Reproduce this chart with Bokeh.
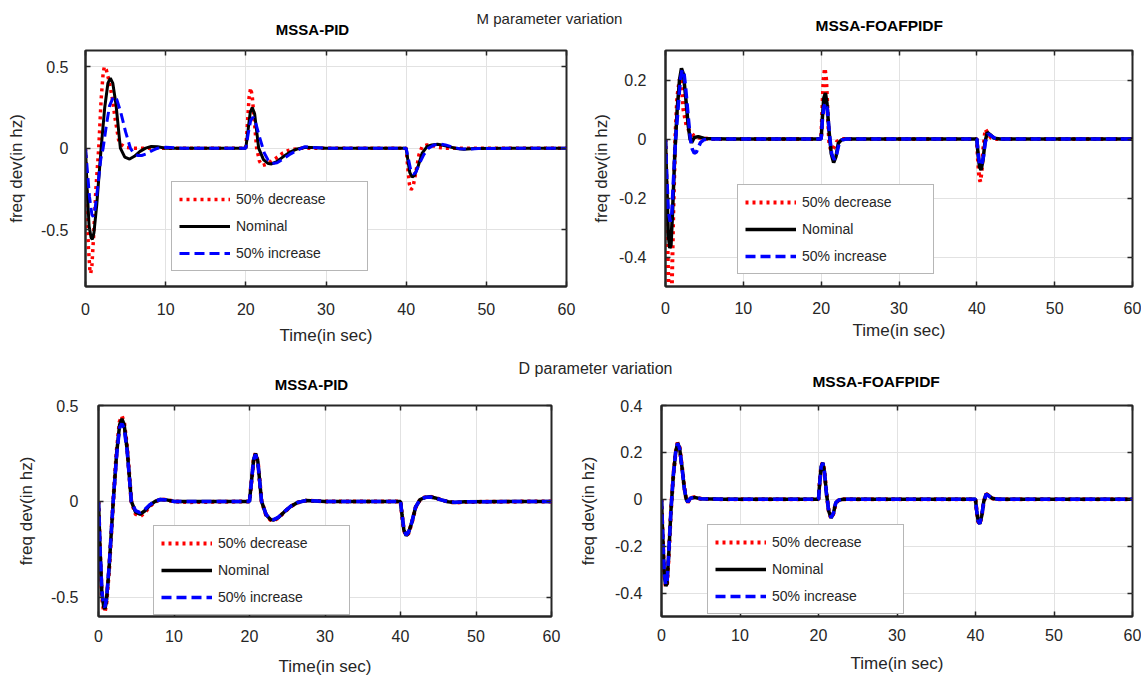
from bokeh.plotting import figure
from bokeh.layouts import column, row
from bokeh.models import Range1d, FixedTicker, Legend, LegendItem, Label, LinearAxis, CustomJSTickFormatter
from bokeh.embed import file_html
from bokeh.resources import INLINE

FONT = "Liberation Sans"
TXT = "#262626"

# ---------------- data ----------------
x_ticks = [0, 10, 20, 30, 40, 50, 60]
x_tick_labels = ["0", "10", "20", "30", "40", "50", "60"]
y_ticks_pid = [-0.5, 0, 0.5]
y_labels_pid = ["-0.5", "0", "0.5"]
y_ticks_fo_m = [-0.4, -0.2, 0, 0.2]
y_labels_fo_m = ["-0.4", "-0.2", "0", "0.2"]
y_ticks_fo_d = [-0.4, -0.2, 0, 0.2, 0.4]
y_labels_fo_d = ["-0.4", "-0.2", "0", "0.2", "0.4"]
series_names = ["50% decrease", "Nominal", "50% increase"]

pid_t = [0, 0.2, 0.45, 0.7, 0.85, 1.05, 1.4, 1.95, 2.4, 2.8, 3.1, 3.4, 3.8, 4.35, 4.9, 5.5, 6.1, 6.8, 7.5, 8.2, 9.0, 10.0, 12.0,
         20.0, 20.3, 20.55, 20.8, 21.1, 21.6, 22.2, 22.8, 23.2, 23.8, 24.6, 25.5, 26.4, 27.5, 30.0,
         40.0, 40.2, 40.45, 40.75, 41.05, 41.5, 42.0, 42.6, 43.2, 43.9, 44.6, 45.4, 46.3, 47.2, 48.5, 60.0]
pid_nom = [0, -0.25, -0.48, -0.55, -0.56, -0.52, -0.35, 0.0, 0.25, 0.4, 0.43, 0.4, 0.27, 0.0, -0.055, -0.067, -0.05, -0.02, 0.0, 0.01, 0.008, 0.0, 0.0,
           0.0, 0.12, 0.22, 0.25, 0.21, 0.0, -0.07, -0.095, -0.097, -0.085, -0.055, -0.025, -0.005, 0.005, 0.0,
           0.0, -0.07, -0.15, -0.178, -0.165, -0.11, -0.03, 0.01, 0.02, 0.024, 0.018, 0.008, -0.002, -0.006, -0.002, 0.0]

pidm_dec_t = [0, 0.15, 0.35, 0.55, 0.65, 0.8, 1.0, 1.3, 1.65, 1.95, 2.2, 2.35, 2.6, 2.9, 3.3, 3.7, 4.2, 5.0, 6.0, 8.0, 10.0,
              20.0, 20.2, 20.4, 20.6, 20.8, 21.05, 21.35, 21.7, 22.05, 22.5, 23.0, 23.8, 24.6, 25.5, 27.0, 30.0,
              40.0, 40.2, 40.4, 40.6, 40.85, 41.2, 41.6, 42.0, 42.6, 43.3, 44.0, 45.0, 46.0, 60.0]
pidm_dec_v = [0, -0.25, -0.6, -0.75, -0.77, -0.72, -0.55, -0.25, 0.0, 0.3, 0.46, 0.5, 0.48, 0.42, 0.32, 0.18, 0.03, 0.005, 0.0, 0.0, 0.0,
              0.0, 0.15, 0.31, 0.37, 0.32, 0.17, 0.0, -0.08, -0.107, -0.1, -0.085, -0.06, -0.03, -0.01, 0.0, 0.0,
              0.0, -0.12, -0.22, -0.255, -0.24, -0.15, -0.04, 0.01, 0.02, 0.015, 0.005, 0.0, 0.0, 0.0]

pidm_inc_t = [0, 0.2, 0.5, 0.8, 0.96, 1.15, 1.5, 1.9, 2.2, 2.6, 3.0, 3.5, 3.9, 4.4, 5.0, 5.6, 6.0, 6.5, 7.0, 7.6, 8.3, 9.0, 10.0, 12.0,
              20.0, 20.3, 20.6, 20.9, 21.2, 21.7, 22.3, 22.8, 23.3, 23.9, 24.7, 25.6, 26.5, 27.3, 28.5, 30.0,
              40.0, 40.25, 40.55, 40.9, 41.2, 41.6, 42.2, 42.8, 43.5, 44.2, 44.9, 45.7, 46.6, 47.5, 49.0, 60.0]
pidm_inc_v = [0, -0.12, -0.3, -0.41, -0.42, -0.39, -0.25, -0.07, 0.0, 0.14, 0.26, 0.317, 0.3, 0.22, 0.1, 0.0, -0.03, -0.045, -0.045, -0.035, -0.015, 0.0, 0.005, 0.0,
              0.0, 0.09, 0.17, 0.19, 0.16, 0.07, -0.03, -0.075, -0.095, -0.09, -0.065, -0.035, -0.01, 0.008, 0.004, 0.0,
              0.0, -0.06, -0.13, -0.16, -0.15, -0.1, -0.04, 0.0, 0.02, 0.026, 0.02, 0.008, -0.003, -0.006, -0.002, 0.0]

pidd_dec_v = [0, -0.26, -0.5, -0.57, -0.575, -0.53, -0.36, 0.0, 0.26, 0.415, 0.445, 0.41, 0.28, 0.0, -0.065, -0.078, -0.06, -0.025, -0.002, 0.01, 0.008, 0.0, -0.004,
              0.0, 0.12, 0.22, 0.25, 0.21, 0.0, -0.072, -0.097, -0.099, -0.087, -0.056, -0.026, -0.006, 0.004, 0.0,
              0.0, -0.07, -0.15, -0.18, -0.167, -0.112, -0.032, 0.01, 0.021, 0.025, 0.019, 0.008, -0.002, -0.006, -0.003, 0.0]
pidd_inc_v = [0, -0.24, -0.47, -0.545, -0.55, -0.51, -0.34, 0.0, 0.24, 0.385, 0.405, 0.38, 0.26, 0.0, -0.048, -0.058, -0.043, -0.017, 0.0, 0.01, 0.007, 0.0, 0.0,
              0.0, 0.118, 0.218, 0.245, 0.206, 0.0, -0.068, -0.093, -0.095, -0.083, -0.054, -0.024, -0.005, 0.005, 0.0,
              0.0, -0.068, -0.147, -0.175, -0.162, -0.108, -0.029, 0.01, 0.02, 0.023, 0.017, 0.008, -0.002, -0.005, -0.002, 0.0]

fo_t = [0, 0.15, 0.35, 0.55, 0.7, 0.9, 1.2, 1.5, 1.8, 2.05, 2.3, 2.6, 2.9, 3.15, 3.35, 3.7, 4.2, 5.0, 8.0,
        20.0, 20.15, 20.35, 20.55, 20.75, 21.0, 21.3, 21.6, 21.9, 22.2, 22.6, 23.2, 25.0,
        40.0, 40.15, 40.35, 40.55, 40.8, 41.05, 41.35, 41.7, 42.2, 43.0, 60.0]
fo_nom = [0, -0.15, -0.32, -0.37, -0.36, -0.25, -0.05, 0.1, 0.2, 0.24, 0.22, 0.14, 0.05, 0.0, -0.012, 0.005, 0.008, 0.002, 0.0,
          0.0, 0.07, 0.14, 0.156, 0.12, 0.03, -0.05, -0.08, -0.06, -0.015, -0.003, 0.0, 0.0,
          0.0, -0.05, -0.095, -0.105, -0.07, -0.01, 0.022, 0.015, 0.003, 0.0, 0.0]

fom_dec_t = [0, 0.15, 0.3, 0.5, 0.65, 0.8, 1.0, 1.25, 1.5, 1.8, 2.0, 2.3, 2.7, 3.1, 3.6, 4.2, 5.0, 6.0, 8.0,
             20.0, 20.15, 20.3, 20.47, 20.65, 20.85, 21.05, 21.3, 21.6, 22.0, 22.5, 25.0,
             40.0, 40.12, 40.3, 40.45, 40.62, 40.8, 41.1, 41.4, 41.8, 42.3, 60.0]
fom_dec_v = [0, -0.2, -0.42, -0.58, -0.6, -0.52, -0.25, 0.0, 0.14, 0.2, 0.21, 0.1, 0.045, 0.025, 0.012, 0.005, 0.002, 0.0, 0.0,
             0.0, 0.1, 0.2, 0.24, 0.2, 0.08, -0.02, -0.04, -0.03, -0.01, 0.0, 0.0,
             0.0, -0.06, -0.13, -0.145, -0.11, -0.04, 0.033, 0.02, 0.005, 0.0, 0.0]

fom_inc_t = [0, 0.15, 0.35, 0.6, 0.8, 1.0, 1.3, 1.6, 1.9, 2.15, 2.35, 2.6, 2.9, 3.2, 3.45, 3.7, 3.95, 4.2, 4.5, 4.9, 5.5, 8.0,
             20.0, 20.15, 20.35, 20.6, 20.8, 21.05, 21.35, 21.7, 22.0, 22.3, 22.7, 23.3, 25.0,
             40.0, 40.15, 40.35, 40.6, 40.85, 41.1, 41.45, 41.8, 42.3, 43.0, 60.0]
fom_inc_v = [0, -0.12, -0.24, -0.28, -0.26, -0.15, 0.0, 0.1, 0.2, 0.235, 0.23, 0.17, 0.08, 0.0, -0.035, -0.048, -0.045, -0.03, -0.012, -0.003, 0.0, 0.0,
             0.0, 0.06, 0.11, 0.122, 0.1, 0.02, -0.05, -0.07, -0.05, -0.015, -0.003, 0.0, 0.0,
             0.0, -0.045, -0.085, -0.09, -0.06, -0.01, 0.018, 0.012, 0.003, 0.0, 0.0]

fod_dec_v = [0, -0.155, -0.325, -0.375, -0.365, -0.255, -0.052, 0.1, 0.2, 0.242, 0.222, 0.142, 0.052, 0.0, -0.013, 0.005, 0.009, 0.002, 0.0,
             0.0, 0.071, 0.141, 0.157, 0.121, 0.031, -0.05, -0.081, -0.061, -0.016, -0.003, 0.0, 0.0,
             0.0, -0.051, -0.096, -0.106, -0.071, -0.011, 0.023, 0.016, 0.003, 0.0, 0.0]
fod_inc_v = [0, -0.145, -0.315, -0.365, -0.355, -0.245, -0.048, 0.1, 0.2, 0.238, 0.218, 0.138, 0.048, 0.0, -0.011, 0.005, 0.008, 0.002, 0.0,
             0.0, 0.069, 0.139, 0.155, 0.119, 0.029, -0.05, -0.079, -0.059, -0.014, -0.003, 0.0, 0.0,
             0.0, -0.049, -0.094, -0.104, -0.069, -0.01, 0.021, 0.014, 0.003, 0.0, 0.0]

# ---------------- styles ----------------
STYLES = [dict(color="#ff0000", line_dash="3 4", width_add=0.5),
          dict(color="#000000", line_dash="solid", width_add=0.0),
          dict(color="#0000ff", line_dash="10 5", width_add=0.0)]


def strip(width, height, texts):
    s = figure(width=width, height=height, x_range=Range1d(0, width), y_range=Range1d(height, 0),
               x_axis_type=None, y_axis_type=None, toolbar_location=None, output_backend="svg",
               min_border_left=0, min_border_right=0, min_border_top=0, min_border_bottom=0)
    s.grid.visible = False
    s.outline_line_color = None
    for text, x, y, size, style in texts:
        s.add_layout(Label(x=x, y=y, text=text, text_font=FONT, text_font_size=size,
                           text_font_style=style, text_align="center", text_baseline="middle",
                           text_color="#000000" if style == "bold" else TXT))
    return s


def mirror_axis(ticks):
    # tick marks only (inner ticks on the top / right edges of the box)
    ax = LinearAxis(ticker=FixedTicker(ticks=ticks),
                    formatter=CustomJSTickFormatter(code="return ''"),
                    axis_line_color=None, major_tick_in=5, major_tick_out=0,
                    major_tick_line_color="#262626", major_tick_line_width=1.5,
                    minor_tick_line_color=None, major_label_standoff=0,
                    major_label_text_font_size="1px")
    return ax


def panel(width, height, borders, yr, yticks, ylabels, series, legend_loc, lw,
          xstand, xlab_stand, ystand, ylab_stand):
    left, right, top, bottom = borders
    p = figure(width=width, height=height, x_range=Range1d(0, 60), y_range=Range1d(*yr),
               toolbar_location=None, output_backend="svg",
               min_border_left=left, min_border_right=right, min_border_top=top, min_border_bottom=bottom)
    p.outline_line_color = "#262626"
    p.outline_line_width = 2
    p.outline_line_alpha = 1
    p.xaxis.ticker = FixedTicker(ticks=x_ticks)
    p.xaxis.major_label_overrides = dict(zip(x_ticks, x_tick_labels))
    p.yaxis.ticker = FixedTicker(ticks=yticks)
    p.yaxis.major_label_overrides = dict(zip(yticks, ylabels))
    p.xaxis.axis_label = "Time(in sec)"
    p.yaxis.axis_label = "freq dev(in hz)"
    for ax in (p.xaxis, p.yaxis):
        ax.axis_line_color = "#262626"
        ax.axis_line_width = 2
        ax.major_tick_in = 5
        ax.major_tick_out = 0
        ax.major_tick_line_color = "#262626"
        ax.major_tick_line_width = 1.5
        ax.minor_tick_line_color = None
        ax.major_label_text_font = FONT
        ax.major_label_text_font_size = "16px"
        ax.major_label_text_color = TXT
        ax.axis_label_text_font = FONT
        ax.axis_label_text_font_size = "17px"
        ax.axis_label_text_font_style = "normal"
        ax.axis_label_text_color = TXT
    p.xaxis.major_label_standoff = xstand
    p.xaxis.axis_label_standoff = xlab_stand
    p.yaxis.major_label_standoff = ystand
    p.yaxis.axis_label_standoff = ylab_stand
    p.grid.grid_line_color = "#e2e2e2"
    p.grid.grid_line_width = 1
    p.add_layout(mirror_axis(x_ticks), "above")
    p.add_layout(mirror_axis(yticks), "right")

    items = []
    for name, (t, v), st in zip(series_names, series, STYLES):
        r = p.line(t, v, line_color=st["color"], line_width=lw + st["width_add"], line_dash=st["line_dash"])
        items.append(LegendItem(label=name, renderers=[r]))
    leg = Legend(items=items, location=legend_loc, label_text_font=FONT, label_text_font_size="14px",
                 label_text_color=TXT, glyph_width=51, glyph_height=20, label_height=20, label_width=124,
                 label_standoff=6, padding=7, spacing=7, margin=0,
                 border_line_color="#6e6e6e", border_line_width=1.5,
                 background_fill_color="white", background_fill_alpha=1)
    p.add_layout(leg)
    return p


W = 1141
strip1 = strip(W, 40, [("M parameter variation", 549, 17.5, "15px", "normal"),
                       ("MSSA-PID", 312, 28.8, "15px", "bold"),
                       ("MSSA-FOAFPIDF", 878.8, 24.8, "15.5px", "bold")])

p1 = panel(586, 310, (85, 20, 10, 61), (-0.85, 0.6), y_ticks_pid, y_labels_pid,
           [(pidm_dec_t, pidm_dec_v), (pid_t, pid_nom), (pidm_inc_t, pidm_inc_v)], (86, 15.5), 3,
           16, 8, 17, 12)
p2 = panel(W - 586, 310, (79, 9, 8, 64), (-0.5, 0.3), y_ticks_fo_m, y_labels_fo_m,
           [(fom_dec_t, fom_dec_v), (fo_t, fo_nom), (fom_inc_t, fom_inc_v)], (72, 12.5), 3.5,
           15, 4, 19, 5)

strip2 = strip(W, 45, [("D parameter variation", 595, 17.7, "16px", "normal"),
                       ("MSSA-PID", 311, 34, "15px", "bold"),
                       ("MSSA-FOAFPIDF", 875.6, 31, "15.5px", "bold")])

p3 = panel(571, 283, (98, 20, 10, 60), (-0.6, 0.5), y_ticks_pid, y_labels_pid,
           [(pid_t, pidd_dec_v), (pid_t, pid_nom), (pid_t, pidd_inc_v)], (55, 1.5), 3.5,
           13, 12, 20, 12)
p4 = panel(W - 571, 283, (90, 9, 8, 61), (-0.5, 0.4), y_ticks_fo_d, y_labels_fo_d,
           [(fo_t, fod_dec_v), (fo_t, fo_nom), (fo_t, fod_inc_v)], (46, 2.5), 3.5,
           12, 10, 19, 14)

layout = column(strip1, row(p1, p2, spacing=0), strip2, row(p3, p4, spacing=0), spacing=0)

open("out.html", "w").write(file_html(layout, INLINE))
